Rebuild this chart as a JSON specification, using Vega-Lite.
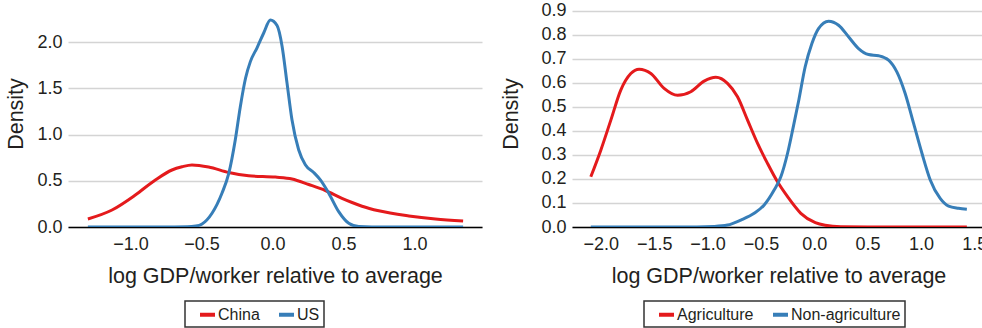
{
  "$schema": "https://vega.github.io/schema/vega-lite/v6.json",
  "padding": {"left": 5, "top": 0, "right": 0, "bottom": 0},
  "spacing": 18,
  "datasets": {
    "cu": [
      {"x": -1.30, "d": 0.087, "g": "China"},
      {"x": -1.13, "d": 0.184, "g": "China"},
      {"x": -0.966, "d": 0.346, "g": "China"},
      {"x": -0.825, "d": 0.509, "g": "China"},
      {"x": -0.708, "d": 0.617, "g": "China"},
      {"x": -0.637, "d": 0.652, "g": "China"},
      {"x": -0.567, "d": 0.672, "g": "China"},
      {"x": -0.45, "d": 0.65, "g": "China"},
      {"x": -0.308, "d": 0.59, "g": "China"},
      {"x": -0.168, "d": 0.555, "g": "China"},
      {"x": 0.02, "d": 0.54, "g": "China"},
      {"x": 0.137, "d": 0.52, "g": "China"},
      {"x": 0.255, "d": 0.46, "g": "China"},
      {"x": 0.372, "d": 0.395, "g": "China"},
      {"x": 0.489, "d": 0.31, "g": "China"},
      {"x": 0.56, "d": 0.265, "g": "China"},
      {"x": 0.63, "d": 0.225, "g": "China"},
      {"x": 0.748, "d": 0.175, "g": "China"},
      {"x": 0.96, "d": 0.12, "g": "China"},
      {"x": 1.147, "d": 0.087, "g": "China"},
      {"x": 1.342, "d": 0.065, "g": "China"},
      {"x": -1.30, "d": 0, "g": "US"},
      {"x": -0.8, "d": 0, "g": "US"},
      {"x": -0.6, "d": 0.002, "g": "US"},
      {"x": -0.54, "d": 0.01, "g": "US"},
      {"x": -0.496, "d": 0.033, "g": "US"},
      {"x": -0.426, "d": 0.149, "g": "US"},
      {"x": -0.356, "d": 0.366, "g": "US"},
      {"x": -0.308, "d": 0.58, "g": "US"},
      {"x": -0.262, "d": 0.945, "g": "US"},
      {"x": -0.227, "d": 1.30, "g": "US"},
      {"x": -0.19, "d": 1.61, "g": "US"},
      {"x": -0.156, "d": 1.79, "g": "US"},
      {"x": -0.109, "d": 1.94, "g": "US"},
      {"x": -0.062, "d": 2.10, "g": "US"},
      {"x": -0.015, "d": 2.24, "g": "US"},
      {"x": 0.032, "d": 2.18, "g": "US"},
      {"x": 0.067, "d": 1.96, "g": "US"},
      {"x": 0.102, "d": 1.56, "g": "US"},
      {"x": 0.137, "d": 1.16, "g": "US"},
      {"x": 0.184, "d": 0.836, "g": "US"},
      {"x": 0.231, "d": 0.674, "g": "US"},
      {"x": 0.29, "d": 0.59, "g": "US"},
      {"x": 0.337, "d": 0.51, "g": "US"},
      {"x": 0.396, "d": 0.366, "g": "US"},
      {"x": 0.466, "d": 0.166, "g": "US"},
      {"x": 0.537, "d": 0.04, "g": "US"},
      {"x": 0.607, "d": 0.005, "g": "US"},
      {"x": 0.7, "d": 0, "g": "US"},
      {"x": 1.342, "d": 0, "g": "US"}
    ],
    "sec": [
      {"x": -2.094, "d": 0.209, "g": "Agriculture"},
      {"x": -2.0, "d": 0.32, "g": "Agriculture"},
      {"x": -1.906, "d": 0.445, "g": "Agriculture"},
      {"x": -1.813, "d": 0.57, "g": "Agriculture"},
      {"x": -1.719, "d": 0.639, "g": "Agriculture"},
      {"x": -1.641, "d": 0.657, "g": "Agriculture"},
      {"x": -1.531, "d": 0.639, "g": "Agriculture"},
      {"x": -1.407, "d": 0.577, "g": "Agriculture"},
      {"x": -1.281, "d": 0.548, "g": "Agriculture"},
      {"x": -1.157, "d": 0.563, "g": "Agriculture"},
      {"x": -1.032, "d": 0.607, "g": "Agriculture"},
      {"x": -0.922, "d": 0.623, "g": "Agriculture"},
      {"x": -0.813, "d": 0.598, "g": "Agriculture"},
      {"x": -0.719, "d": 0.542, "g": "Agriculture"},
      {"x": -0.625, "d": 0.445, "g": "Agriculture"},
      {"x": -0.531, "d": 0.348, "g": "Agriculture"},
      {"x": -0.438, "d": 0.265, "g": "Agriculture"},
      {"x": -0.344, "d": 0.188, "g": "Agriculture"},
      {"x": -0.25, "d": 0.126, "g": "Agriculture"},
      {"x": -0.126, "d": 0.057, "g": "Agriculture"},
      {"x": 0.01, "d": 0.018, "g": "Agriculture"},
      {"x": 0.102, "d": 0.007, "g": "Agriculture"},
      {"x": 0.25, "d": 0.001, "g": "Agriculture"},
      {"x": 0.5, "d": 0, "g": "Agriculture"},
      {"x": 1.43, "d": 0, "g": "Agriculture"},
      {"x": -2.094, "d": 0, "g": "Non-agriculture"},
      {"x": -1.1, "d": 0, "g": "Non-agriculture"},
      {"x": -0.94, "d": 0.002, "g": "Non-agriculture"},
      {"x": -0.813, "d": 0.008, "g": "Non-agriculture"},
      {"x": -0.688, "d": 0.029, "g": "Non-agriculture"},
      {"x": -0.563, "d": 0.057, "g": "Non-agriculture"},
      {"x": -0.469, "d": 0.092, "g": "Non-agriculture"},
      {"x": -0.376, "d": 0.154, "g": "Non-agriculture"},
      {"x": -0.313, "d": 0.209, "g": "Non-agriculture"},
      {"x": -0.25, "d": 0.307, "g": "Non-agriculture"},
      {"x": -0.195, "d": 0.42, "g": "Non-agriculture"},
      {"x": -0.144, "d": 0.53, "g": "Non-agriculture"},
      {"x": -0.085, "d": 0.667, "g": "Non-agriculture"},
      {"x": -0.022, "d": 0.764, "g": "Non-agriculture"},
      {"x": 0.04, "d": 0.826, "g": "Non-agriculture"},
      {"x": 0.134, "d": 0.857, "g": "Non-agriculture"},
      {"x": 0.228, "d": 0.84, "g": "Non-agriculture"},
      {"x": 0.321, "d": 0.792, "g": "Non-agriculture"},
      {"x": 0.415, "d": 0.743, "g": "Non-agriculture"},
      {"x": 0.509, "d": 0.718, "g": "Non-agriculture"},
      {"x": 0.603, "d": 0.713, "g": "Non-agriculture"},
      {"x": 0.696, "d": 0.695, "g": "Non-agriculture"},
      {"x": 0.774, "d": 0.646, "g": "Non-agriculture"},
      {"x": 0.852, "d": 0.556, "g": "Non-agriculture"},
      {"x": 0.931, "d": 0.431, "g": "Non-agriculture"},
      {"x": 1.009, "d": 0.307, "g": "Non-agriculture"},
      {"x": 1.087, "d": 0.196, "g": "Non-agriculture"},
      {"x": 1.18, "d": 0.119, "g": "Non-agriculture"},
      {"x": 1.259, "d": 0.087, "g": "Non-agriculture"},
      {"x": 1.352, "d": 0.078, "g": "Non-agriculture"},
      {"x": 1.43, "d": 0.074, "g": "Non-agriculture"}
    ]
  },
  "resolve": {"scale": {"color": "independent"}, "legend": {"color": "independent"}},
  "hconcat": [
    {
      "width": 414,
      "height": 227,
      "data": {"name": "cu"},
      "mark": {"type": "line", "strokeWidth": 3, "interpolate": "monotone", "clip": true},
      "encoding": {
        "x": {"field": "x", "type": "quantitative", "scale": {"domain": [-1.44, 1.475], "nice": false, "zero": false},
              "axis": {"title": "log GDP/worker relative to average", "values": [-1, -0.5, 0, 0.5, 1], "format": ".1f"}},
        "y": {"field": "d", "type": "quantitative", "scale": {"domain": [0, 2.457], "nice": false},
              "axis": {"title": "Density", "values": [0, 0.5, 1, 1.5, 2], "format": ".1f", "titlePadding": 9}},
        "color": {"field": "g", "type": "nominal", "scale": {"domain": ["China", "US"], "range": ["#e41a1c", "#377eb8"]},
                  "legend": {"legendX": 117, "legendY": 301}}
      }
    },
    {
      "width": 413,
      "height": 227,
      "data": {"name": "sec"},
      "mark": {"type": "line", "strokeWidth": 3, "interpolate": "monotone", "clip": true},
      "encoding": {
        "x": {"field": "x", "type": "quantitative", "scale": {"domain": [-2.27, 1.6], "nice": false, "zero": false},
              "axis": {"title": "log GDP/worker relative to average", "values": [-2, -1.5, -1, -0.5, 0, 0.5, 1, 1.5], "format": ".1f"}},
        "y": {"field": "d", "type": "quantitative", "scale": {"domain": [0, 0.945], "nice": false},
              "axis": {"title": "Density", "values": [0, 0.1, 0.2, 0.3, 0.4, 0.5, 0.6, 0.7, 0.8, 0.9], "format": ".1f", "titlePadding": 18}},
        "color": {"field": "g", "type": "nominal", "scale": {"domain": ["Agriculture", "Non-agriculture"], "range": ["#e41a1c", "#377eb8"]},
                  "legend": {"legendX": 72, "legendY": 301}}
      }
    }
  ],
  "config": {
    "view": {"stroke": null},
    "font": "Liberation Sans",
    "axis": {
      "labelFont": "Liberation Sans",
      "titleFont": "Liberation Sans",
      "labelFontSize": 18,
      "titleFontSize": 21.5,
      "titleFontWeight": "normal",
      "labelColor": "#231f20",
      "titleColor": "#231f20",
      "ticks": false,
      "tickSize": 0,
      "gridColor": "#d4d4d4",
      "gridWidth": 1.5
    },
    "axisX": {"grid": false, "domainColor": "#000000", "domainWidth": 1.5, "labelPadding": 8, "titlePadding": 12},
    "axisY": {"domain": false, "labelPadding": 6},
    "legend": {
      "orient": "none",
      "direction": "horizontal",
      "title": null,
      "labelFont": "Liberation Sans",
      "labelFontSize": 16,
      "labelColor": "#231f20",
      "symbolType": "stroke",
      "symbolStrokeWidth": 4,
      "symbolSize": 225,
      "strokeColor": "#333333",
      "strokeWidth": 1.5,
      "fillColor": "#ffffff",
      "padding": 4,
      "symbolOffset": 9,
      "columnPadding": 8,
      "labelOffset": 1
    }
  }
}
